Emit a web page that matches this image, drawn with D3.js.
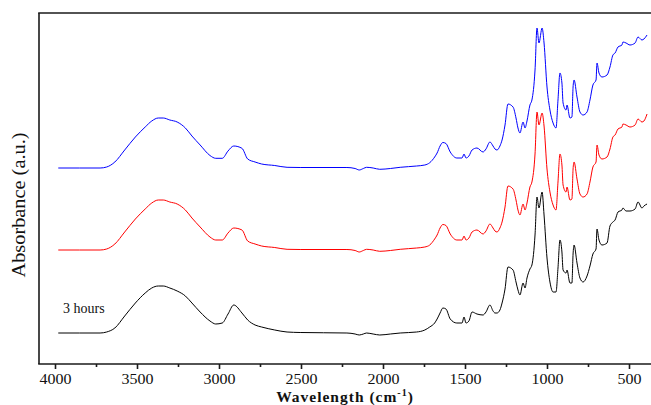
<!DOCTYPE html>
<html>
<head>
<meta charset="utf-8">
<script src="https://cdn.jsdelivr.net/npm/d3@7"></script>
<style>
  html, body { margin: 0; padding: 0; background: #fff; }
  svg { display: block; }
  text { font-family: "Liberation Serif", "DejaVu Serif", serif; fill: #111; }
</style>
</head>
<body>
<svg id="chart" width="651" height="405"></svg>
<script>
// Wavenumbers (cm^-1), shared by the three spectra
const wavenumbers = [3980,3850,3725,3685,3635,3575,3510,3450,3410,3370,3340,3300,3255,3205,3165,3115,3055,3020,2980,2945,
  2910,2860,2825,2780,2740,2660,2585,2505,2220,2170,2145,2120,2100,2060,2020,1955,1895,1795,1745,1715,
  1685,1670,1652,1635,1616,1590,1550,1518,1506,1494,1476,1457,1427,1390,1372,1348,1329,1317,1305,1287,
  1274,1256,1238,1207,1189,1177,1165,1146,1134,1122,1104,1092,1073,1061,1049,1030,1018,1000,982,963,
  945,933,921,909,902,884,878,860,848,841,835,817,799,780,756,738,720,701,695,683,
  665,634,616,598,585,567,543,537,518,494,463,445,421,409,390];

// Top (blue) spectrum, absorbance incl. offset
const blueSeries = [1.96,1.96,1.96,1.97,2.02,2.14,2.27,2.37,2.43,2.46,2.46,2.44,2.42,2.36,2.28,2.19,2.085,2.057,2.057,2.13,
  2.18,2.157,2.05,2.02,2.00,1.985,1.967,1.965,1.965,1.955,1.94,1.955,1.967,1.96,1.947,1.955,1.967,1.98,1.99,2.013,
  2.07,2.11,2.18,2.215,2.205,2.12,2.06,2.06,2.10,2.06,2.08,2.14,2.16,2.12,2.15,2.22,2.18,2.15,2.14,2.18,
  2.24,2.39,2.60,2.57,2.46,2.36,2.31,2.42,2.36,2.43,2.59,2.64,2.94,3.36,3.21,3.36,3.21,2.77,2.54,2.41,
  2.36,2.64,2.91,2.81,2.61,2.54,2.59,2.46,2.47,2.77,2.84,2.67,2.52,2.49,2.52,2.64,2.79,2.84,3.01,2.91,
  2.87,2.89,2.97,3.09,3.11,3.17,3.19,3.22,3.21,3.19,3.21,3.27,3.24,3.25,3.29];

// Middle (red) spectrum
const redSeries = [1.14,1.14,1.14,1.15,1.20,1.32,1.45,1.55,1.61,1.64,1.64,1.62,1.60,1.54,1.46,1.37,1.27,1.24,1.24,1.31,
  1.36,1.34,1.23,1.20,1.18,1.165,1.147,1.145,1.145,1.135,1.12,1.135,1.147,1.14,1.127,1.135,1.147,1.16,1.17,1.19,
  1.25,1.29,1.36,1.395,1.385,1.30,1.24,1.24,1.28,1.24,1.26,1.32,1.34,1.30,1.33,1.40,1.36,1.33,1.32,1.36,
  1.42,1.57,1.78,1.75,1.64,1.54,1.49,1.60,1.54,1.61,1.77,1.82,2.10,2.52,2.39,2.51,2.38,1.95,1.72,1.59,
  1.54,1.82,2.10,1.99,1.79,1.72,1.77,1.64,1.65,1.95,2.02,1.85,1.70,1.67,1.70,1.82,1.97,2.02,2.19,2.09,
  2.05,2.07,2.15,2.27,2.29,2.35,2.37,2.40,2.39,2.37,2.39,2.45,2.42,2.43,2.50];

// Bottom (black, 3 hours) spectrum
const blackSeries = [0.31,0.31,0.31,0.32,0.36,0.48,0.61,0.71,0.76,0.78,0.78,0.76,0.73,0.68,0.61,0.52,0.43,0.40,0.41,0.50,
  0.59,0.51,0.44,0.39,0.37,0.34,0.32,0.315,0.31,0.30,0.29,0.30,0.31,0.30,0.29,0.30,0.31,0.32,0.34,0.37,
  0.41,0.45,0.51,0.56,0.55,0.45,0.41,0.41,0.47,0.41,0.43,0.52,0.50,0.49,0.52,0.59,0.53,0.51,0.51,0.54,
  0.61,0.75,0.97,0.94,0.82,0.74,0.69,0.81,0.76,0.86,0.95,0.99,1.29,1.67,1.56,1.72,1.49,1.06,0.82,0.72,
  0.72,0.96,1.24,1.12,0.94,0.91,0.94,0.81,0.81,1.10,1.19,1.01,0.86,0.82,0.88,0.98,1.10,1.15,1.35,1.24,
  1.19,1.21,1.38,1.42,1.44,1.52,1.54,1.56,1.53,1.53,1.55,1.62,1.56,1.58,1.60];

const seriesColors = ["#0000ff", "#ff0000", "#000000"];
const majorTicks = [4000,3500,3000,2500,2000,1500,1000,500];
const minorTicks = [3750,3250,2750,2250,1750,1250,750];
const xTitle = "Wavelength (cm";
const yTitle = "Absorbance (a.u.)";
const sampleLabel = "3 hours";

const svg = d3.select("#chart");
const x = d3.scaleLinear().domain([4000, 500]).range([55, 629]);
const y = d3.scaleLinear().domain([0, 3.51]).range([364, 13]);

const frameLeft = 39, frameTop = 13, frameBottom = 364, frameRight = 660;

// spectra
const line = d3.line().x(d => x(d[0])).y(d => y(d[1])).curve(d3.curveMonotoneX);
[blueSeries, redSeries, blackSeries].forEach((s, i) => {
  const pts = wavenumbers.map((w, j) => [w, s[j]]);
  svg.append("path").datum(pts)
    .attr("d", line)
    .attr("fill", "none")
    .attr("stroke", seriesColors[i])
    .attr("stroke-width", 1)
    .attr("stroke-linejoin", "round");
});

// frame
const frame = svg.append("g").attr("stroke", "#1a1a1a").attr("stroke-width", 1.6).attr("fill", "none");
frame.append("line").attr("x1", frameLeft).attr("x2", frameLeft).attr("y1", frameTop).attr("y2", frameBottom);
frame.append("line").attr("x1", frameLeft - 0.8).attr("x2", frameRight).attr("y1", frameTop).attr("y2", frameTop);
frame.append("line").attr("x1", frameLeft - 0.8).attr("x2", frameRight).attr("y1", frameBottom).attr("y2", frameBottom);

// axes
const axMajor = svg.append("g").attr("transform", `translate(0,${frameBottom})`)
  .call(d3.axisBottom(x).tickValues(majorTicks).tickSize(5).tickPadding(6).tickFormat(d3.format("d")));
const axMinor = svg.append("g").attr("transform", `translate(0,${frameBottom})`)
  .call(d3.axisBottom(x).tickValues(minorTicks).tickSize(3).tickFormat(""));
[axMajor, axMinor].forEach(a => {
  a.select(".domain").remove();
  a.selectAll("line").attr("stroke", "#1a1a1a").attr("stroke-width", 1.6);
});
axMajor.selectAll("text")
  .attr("font-family", "Liberation Serif, serif")
  .attr("font-size", 14)
  .attr("fill", "#111")
  .attr("dy", null)
  .attr("y", 20)
  .attr("textLength", d => String(d).length * 8)
  .attr("lengthAdjust", "spacingAndGlyphs");

// x title
const xt = svg.append("text")
  .attr("x", 345).attr("y", 401.5)
  .attr("text-anchor", "middle")
  .attr("font-size", 15.5)
  .attr("font-weight", "bold")
  .attr("letter-spacing", 1);
xt.append("tspan").text(xTitle);
xt.append("tspan").attr("font-size", 10).attr("dy", -6).text("-1");
xt.append("tspan").attr("dy", 6).text(")");

// y title
svg.append("text")
  .attr("transform", "translate(25,205) rotate(-90)")
  .attr("text-anchor", "middle")
  .attr("font-size", 18)
  .attr("textLength", 145)
  .attr("lengthAdjust", "spacingAndGlyphs")
  .text(yTitle);

// sample label
svg.append("text")
  .attr("x", 63).attr("y", 313)
  .attr("font-size", 14)
  .text(sampleLabel);
</script>
</body>
</html>
